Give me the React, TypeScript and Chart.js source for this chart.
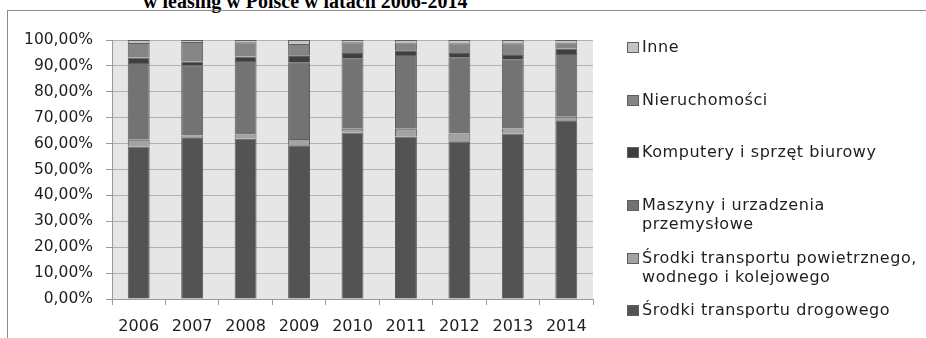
import React, { useEffect, useRef } from "react";
import { Chart, registerables } from "chart.js";

Chart.register(...registerables);

const years = ["2006", "2007", "2008", "2009", "2010", "2011", "2012", "2013", "2014"];

// Udział (%) poszczególnych grup przedmiotów leasingu
const drogowy = [58.9, 62.5, 61.9, 59.4, 64.3, 62.7, 60.9, 63.9, 69.0];
const powietrzny = [2.6, 0.6, 1.6, 2.4, 1.4, 3.0, 3.0, 1.9, 1.4];
const maszyny = [29.6, 27.0, 28.4, 29.4, 27.1, 28.5, 29.2, 26.6, 24.2];
const komputery = [2.1, 1.5, 1.7, 2.9, 2.2, 1.8, 1.9, 1.8, 2.0];
const nieruchomosci = [5.6, 7.6, 5.5, 4.4, 4.1, 3.0, 3.7, 4.5, 2.4];
const inne = [1.2, 0.8, 0.9, 1.5, 0.9, 1.0, 1.3, 1.3, 1.0];

const yTicks = [0, 10, 20, 30, 40, 50, 60, 70, 80, 90, 100];

const seriesNames = [
  "Środki transportu drogowego",
  "Środki transportu powietrznego, wodnego i kolejowego",
  "Maszyny i urzadzenia przemysłowe",
  "Komputery i sprzęt biurowy",
  "Nieruchomości",
  "Inne",
];
const seriesValues = [drogowy, powietrzny, maszyny, komputery, nieruchomosci, inne];
const seriesColors = ["#535353", "#a3a3a3", "#737373", "#3f3f3f", "#858585", "#c4c4c4"];

// legend rows, top to bottom, with manual line breaks
const legendRows: { lines: string[]; color: string; top: number }[] = [
  { lines: ["Inne"], color: seriesColors[5], top: 47 },
  { lines: ["Nieruchomości"], color: seriesColors[4], top: 100 },
  { lines: ["Komputery i sprzęt biurowy"], color: seriesColors[3], top: 152 },
  { lines: ["Maszyny i urzadzenia", "przemysłowe"], color: seriesColors[2], top: 205 },
  { lines: ["Środki transportu powietrznego,", "wodnego i kolejowego"], color: seriesColors[1], top: 258 },
  { lines: ["Środki transportu drogowego"], color: seriesColors[0], top: 310 },
];

const FONT = "'DejaVu Sans', sans-serif";

const plotBackground = {
  id: "plotBackground",
  beforeDraw(chart: any) {
    const { ctx, chartArea } = chart;
    ctx.save();
    ctx.fillStyle = "#e6e6e6";
    ctx.fillRect(chartArea.left, chartArea.top, chartArea.right - chartArea.left, chartArea.bottom - chartArea.top);
    ctx.restore();
  },
};

export default function App() {
  const canvasRef = useRef<HTMLCanvasElement | null>(null);

  useEffect(() => {
    if (!canvasRef.current) return;
    const chart = new Chart(canvasRef.current, {
      type: "bar",
      data: {
        labels: years,
        datasets: seriesValues.map((vals, i) => ({
          label: seriesNames[i],
          data: vals,
          backgroundColor: seriesColors[i],
          borderColor: "#5e5e5e",
          borderWidth: 1,
          barPercentage: 0.41,
          categoryPercentage: 1,
        })),
      },
      options: {
        responsive: false,
        animation: false,
        layout: { padding: { left: 0, right: 333, top: 40, bottom: 0 } },
        plugins: {
          legend: { display: false },
          title: { display: false },
          tooltip: { enabled: false },
        },
        scales: {
          x: {
            stacked: true,
            afterFit: (s: any) => {
              s.height = 39;
            },
            border: { display: true, color: "#9a9a9a", width: 1 },
            grid: {
              offset: true,
              drawOnChartArea: false,
              drawTicks: true,
              tickLength: 6,
              color: "#9a9a9a",
            },
            ticks: {
              color: "#1e1e1e",
              font: { family: FONT, size: 16 },
              padding: 12,
              maxRotation: 0,
              autoSkip: false,
            },
          },
          y: {
            stacked: true,
            min: 0,
            max: 100,
            afterFit: (s: any) => {
              s.width = 112;
            },
            afterBuildTicks: (s: any) => {
              s.ticks = yTicks.map((v) => ({ value: v }));
            },
            border: { display: true, color: "#9a9a9a", width: 1 },
            grid: {
              color: "#b2b2b2",
              tickLength: 6,
              tickColor: "#9a9a9a",
            },
            ticks: {
              color: "#1e1e1e",
              font: { family: FONT, size: 15.5 },
              padding: 13,
              callback: (v: any) => `${Number(v).toFixed(2).replace(".", ",")}%`,
            },
          },
        },
      },
      plugins: [plotBackground],
    });
    return () => chart.destroy();
  }, []);

  return (
    <div style={{ position: "absolute", left: 0, top: 0, width: 926, height: 338, overflow: "hidden", background: "#fff" }}>
      <div
        style={{
          position: "absolute",
          left: 143,
          top: -11,
          fontFamily: "'Liberation Serif', 'Times New Roman', serif",
          fontWeight: "bold",
          fontSize: 20,
          lineHeight: "24px",
          whiteSpace: "nowrap",
          color: "#000",
        }}
      >
        w leasing w Polsce w latach 2006-2014
      </div>
      <div
        style={{
          position: "absolute",
          left: 7,
          top: 10,
          width: 930,
          height: 340,
          borderLeft: "1px solid #8a8a8a",
          borderTop: "1px solid #8a8a8a",
        }}
      />
      <canvas ref={canvasRef} width={926} height={338} style={{ position: "absolute", left: 0, top: 0, width: 926, height: 338 }} />
      {legendRows.map((row) => (
        <div key={row.lines[0]} style={{ position: "absolute", left: 627, top: row.top - 5 }}>
          <div
            style={{
              position: "absolute",
              left: 0,
              top: 0,
              width: 10,
              height: 9,
              background: row.color,
              border: "1px solid #5e5e5e",
            }}
          />
          <div
            style={{
              position: "absolute",
              left: 15,
              top: -5,
              fontFamily: FONT,
              fontSize: 16,
              letterSpacing: "0.55px",
              lineHeight: "19px",
              color: "#1e1e1e",
              whiteSpace: "nowrap",
            }}
          >
            {row.lines.map((l) => (
              <div key={l}>{l}</div>
            ))}
          </div>
        </div>
      ))}
    </div>
  );
}
